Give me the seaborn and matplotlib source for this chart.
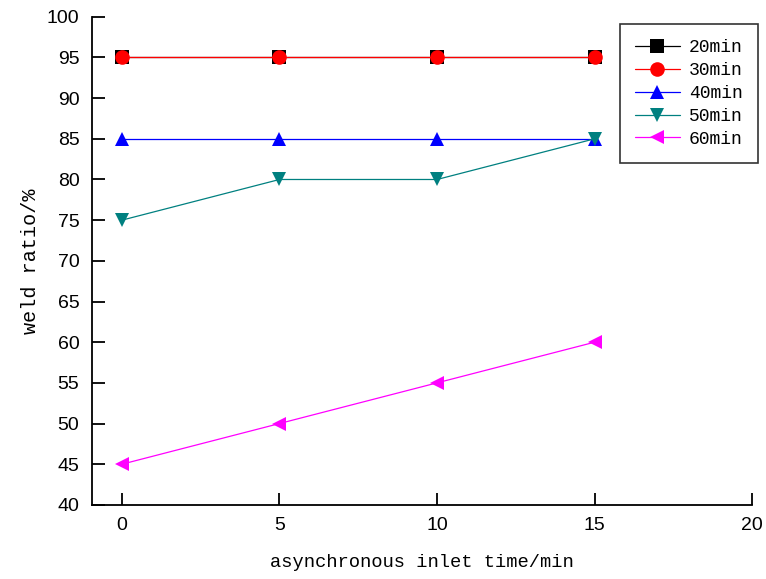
import matplotlib
matplotlib.use("Agg")
import matplotlib.pyplot as plt
import pandas as pd
import seaborn as sns

# data
inlet_time = [0, 5, 10, 15]
series_names = ["20min", "30min", "40min", "50min", "60min"]
ratio_20 = [95, 95, 95, 95]
ratio_30 = [95, 95, 95, 95]
ratio_40 = [85, 85, 85, 85]
ratio_50 = [75, 80, 80, 85]
ratio_60 = [45, 50, 55, 60]

colors = ["#000000", "#ff0000", "#0000ff", "#008080", "#ff00ff"]
markers = ["s", "o", "^", "v", "<"]

rows = []
for name, vals in zip(series_names, [ratio_20, ratio_30, ratio_40, ratio_50, ratio_60]):
    for t, v in zip(inlet_time, vals):
        rows.append({"time": t, "ratio": v, "series": name})
df = pd.DataFrame(rows)

sns.set_style("ticks")
plt.rcParams["font.family"] = ["Liberation Sans", "DejaVu Sans"]
plt.rcParams["text.color"] = "black"
plt.rcParams["xtick.color"] = "black"
plt.rcParams["ytick.color"] = "black"
plt.rcParams["axes.labelcolor"] = "black"
plt.rcParams["axes.edgecolor"] = "black"

fig = plt.figure(figsize=(7.66, 5.79), dpi=100)
ax = fig.add_axes([0.120, 0.128, 0.862, 0.843])

sns.lineplot(data=df, x="time", y="ratio", hue="series", style="series",
             palette=dict(zip(series_names, colors)),
             markers=dict(zip(series_names, markers)), dashes=False,
             markersize=10.5, linewidth=0.9, markeredgewidth=0,
             ax=ax, legend=False)

ax.set_xlim(-0.95, 20)
ax.set_ylim(40, 100)
ax.set_xticks([0, 5, 10, 15, 20])
ax.set_yticks(range(40, 101, 5))
ax.tick_params(direction="in", length=9, width=1.3, labelsize=14, pad=9)
for s in ["top", "right"]:
    ax.spines[s].set_visible(False)
for s in ["left", "bottom"]:
    ax.spines[s].set_linewidth(1.3)

mono = ["Liberation Mono", "DejaVu Sans Mono"]
ax.set_xlabel("asynchronous inlet time/min", family=mono, fontsize=13.5, labelpad=14)
ax.set_ylabel("weld ratio/%", family=mono, fontsize=14.5, labelpad=5)

handles = [plt.Line2D([], [], color=c, marker=m, markersize=10.5, markeredgewidth=0,
                      linewidth=0.9) for c, m in zip(colors, markers)]
leg = ax.legend(handles, series_names, loc="upper right", bbox_to_anchor=(1.009, 0.986),
                prop={"family": mono, "size": 13}, frameon=True, fancybox=False,
                handlelength=2.5, borderpad=0.85, labelspacing=0.33, handletextpad=0.5,
                borderaxespad=0)
leg.get_frame().set_edgecolor("black")
leg.get_frame().set_linewidth(1.2)

fig.savefig("out.png", dpi=100)
